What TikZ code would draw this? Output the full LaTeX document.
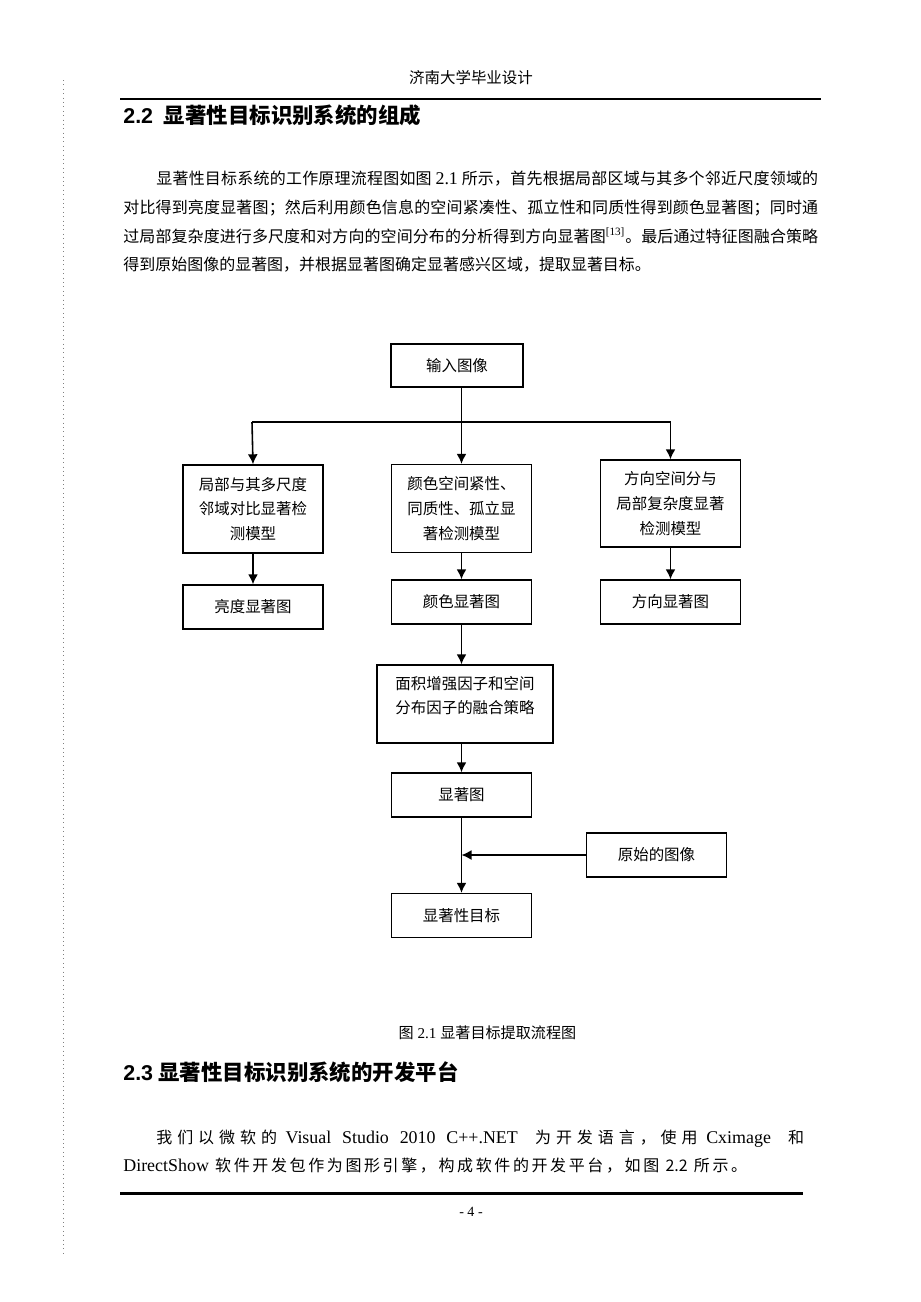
\documentclass[tikz,border=0pt]{standalone}
\usepackage{fontspec}
\setmainfont{Liberation Serif}
\newfontfamily\cjk{Noto Sans CJK SC}
\newfontfamily\latin{Liberation Serif}
\newfontfamily\hsans{Liberation Sans}
\usetikzlibrary{arrows.meta, positioning}
\newcommand{\lat}[1]{{\latin\fontsize{10.2pt}{11pt}\selectfont #1}}
% glue between cjk characters, only inside \parline
\newcount\cjkcc
\cjkcc="4E00
\loop \XeTeXcharclass\cjkcc=1 \advance\cjkcc by 1 \ifnum\cjkcc<"A000 \repeat
\XeTeXcharclass"FF0C=3 \XeTeXcharclass"3002=3 \XeTeXcharclass"FF1B=3 \XeTeXcharclass"3001=3
\XeTeXinterchartoks 1 1 = {\hskip 0pt plus 1pt}
\XeTeXinterchartoks 1 3 = {\hskip 0pt plus 1pt}
\XeTeXinterchartoks 3 1 = {\hskip 0pt plus 1pt}
\newcommand{\parline}[2]{{\XeTeXinterchartokenstate=1 \hbox to #1{#2}}}

\begin{document}
\begin{tikzpicture}[x=0.02cm, y=-0.02cm,
	> = {Latex[length=2mm, width=2mm]},
	blk/.style={draw, line width=0.8pt, inner sep=0pt, align=center,
		font=\cjk\fontsize{8.8pt}{14pt}\selectfont},
	tall/.style={blk, minimum width=2.8cm, minimum height=1.76cm},
	small/.style={blk, minimum width=2.8cm, minimum height=0.88cm},
	body/.style={anchor=base west, inner sep=0pt, font=\cjk\fontsize{9.1pt}{11pt}\selectfont},
	head/.style={anchor=base west, inner sep=0pt, font=\fontsize{12.2pt}{14pt}\selectfont\bfseries}]
	\path[fill=white, use as bounding box] (0,0) rectangle (920,1302);
	
	% margen y cabecera
	\draw[gray, dotted, line width=0.5pt] (63,80) -- (63,1253);
	\node[anchor=base, inner sep=0pt, font=\cjk\fontsize{8.8pt}{10pt}\selectfont] (hdr) at (471,83) {济南大学毕业设计};
	\draw[line width=1.7pt] (120,99) -- (821,99);
	
	% 2.2
	\node[head] (h22) at (123,123) {{\hsans 2.2}\ \ {\cjk 显著性目标识别系统的组成}};
	\node[body] (p1a) at (156,184) {\parline{13.24cm}{显著性目标系统的工作原理流程图如图 \lat{2.1} 所示，首先根据局部区域与其多个邻近尺度领域的}};
	\node[body] (p1b) at (123,213) {\parline{13.9cm}{对比得到亮度显著图；然后利用颜色信息的空间紧凑性、孤立性和同质性得到颜色显著图；同时通}};
	\node[body] (p1c) at (123,242) {\parline{13.9cm}{过局部复杂度进行多尺度和对方向的空间分布的分析得到方向显著图{\latin\textsuperscript{[13]}}。最后通过特征图融合策略}};
	\node[body] (p1d) at (123,270) {\parline{10.5cm}{得到原始图像的显著图，并根据显著图确定显著感兴区域，提取显著目标。}};
	
	% diagrama
	\node[blk, minimum width=2.64cm, minimum height=0.86cm] (in) at (457,365.5) {输入图像};
	\node[tall] (left) at (253,509) {局部与其多尺度\\邻域对比显著检\\测模型};
	\node[tall] (mid) at (461.5,508.5) {颜色空间紧性、\\同质性、孤立显\\著检测模型};
	\node[tall, minimum height=1.74cm] (right) at (670.5,503.5) {方向空间分与\\局部复杂度显著\\检测模型};
	\node[small] (lmap) at (253,607) {亮度显著图};
	\node[small] (cmap) at (461.5,602) {颜色显著图};
	\node[small] (dmap) at (670.5,602) {方向显著图};
	\node[blk, minimum width=3.52cm, minimum height=1.56cm] (fuse) at (465,704) {面积增强因子和空间\\分布因子的融合策略\\[-3.5pt]\mbox{}};
	\node[small] (sal) at (461.5,795) {显著图};
	\node[small] (orig) at (656.5,855) {原始的图像};
	\node[small] (tgt) at (461.5,915.5) {显著性目标};
	
	\coordinate (sl) at (252,422);
	\coordinate (sr) at (670.5,422);
	\draw[line width=0.7pt] (sl) -- (sr);
	\draw[->, line width=0.9pt] (in.south -| mid.north) -- (mid.north);
	\draw[->, line width=0.9pt] (sl) -- (left.north);
	\draw[->, line width=0.9pt] (sr) -- (right.north);
	\draw[->, line width=0.9pt] (left) -- (lmap);
	\draw[->, line width=0.9pt] (mid) -- (cmap);
	\draw[->, line width=0.9pt] (right) -- (dmap);
	\draw[->, line width=0.9pt] (cmap.south) -- (cmap.south |- fuse.north);
	\draw[->, line width=0.9pt] (sal.north |- fuse.south) -- (sal.north);
	\draw[->, line width=0.9pt] (sal) -- (tgt);
	\draw[->, line width=0.9pt] (orig.west) -- (orig.west -| sal.south);
	
	\node[anchor=base, inner sep=0pt, font=\fontsize{8.6pt}{10pt}\selectfont] (cap) at (487.5,1038) {{\cjk 图} 2.1 {\cjk 显著目标提取流程图}};
	
	% 2.3
	\node[head] (h23) at (123,1080) {{\hsans 2.3} {\cjk 显著性目标识别系统的开发平台}};
	\node[body] (p2a) at (156,1143) {\parline{12.96cm}{我们以微软的 \lat{Visual Studio 2010 C++.NET}\ \ 为开发语言，使用 \lat{Cximage}\ \ 和}};
	\node[body] (p2b) at (123,1171) {\parline{12.48cm}{\lat{DirectShow} 软件开发包作为图形引擎，构成软件的开发平台，如图 2.2 所示。}};
	
	% pie
	\draw[line width=1.7pt] (120,1193) -- (803,1193);
	\node[anchor=base, inner sep=0pt, font=\fontsize{8pt}{10pt}\selectfont] (pg) at (471,1216) {- 4 -};
\end{tikzpicture}
\end{document}
